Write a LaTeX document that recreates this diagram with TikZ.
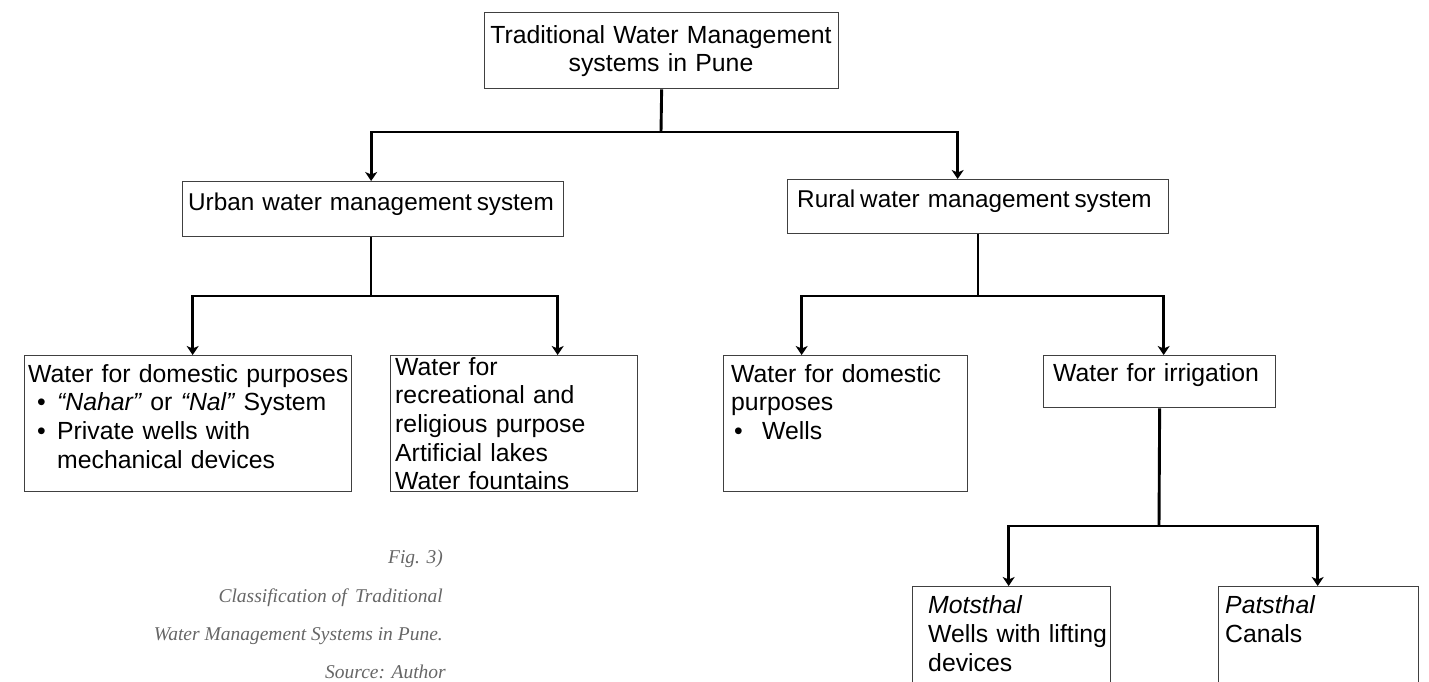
\documentclass[tikz,border=0pt]{standalone}
\usepackage{fontspec}
\setmainfont{Liberation Sans}
\newfontfamily\capfont{Liberation Serif}
\usetikzlibrary{arrows.meta}
\begin{document}
\begin{tikzpicture}[x=1pt,y=-1pt,
  box/.style={draw=black!75, line width=1.3pt, rectangle, inner sep=0pt, anchor=north west},
  txt/.style={inner sep=0pt, anchor=north west, align=left, text width=400pt,
              font=\fontsize{24.8}{28.6}\selectfont},
  conn/.style={line width=2.9pt, black},
  arr/.style={conn, -{Stealth[length=9pt,width=12pt,inset=2.5pt]}},
  captxt/.style={inner sep=0pt, anchor=base east, text=black!60,
              font=\capfont\itshape\fontsize{19.5}{22}\selectfont}]
\useasboundingbox (0,0) rectangle (1429,682);
\clip (0,0) rectangle (1429,682);

% boxes
\node[box, minimum width=354pt, minimum height=76pt] (top) at (484,12) {};
\node[box, minimum width=381pt, minimum height=55pt] (urban) at (182,181) {};
\node[box, minimum width=381pt, minimum height=54pt] (rural) at (787,179) {};
\node[box, minimum width=327pt, minimum height=136pt] (boxA) at (24,355) {};
\node[box, minimum width=247pt, minimum height=136pt] (boxB) at (390,355) {};
\node[box, minimum width=244pt, minimum height=136pt] (boxC) at (723,355) {};
\node[box, minimum width=232pt, minimum height=52pt] (boxD) at (1043,355) {};
\node[box, minimum width=198pt, minimum height=130pt] (boxE) at (912,586) {};
\node[box, minimum width=200pt, minimum height=130pt] (boxF) at (1218,586) {};

% texts
\node[inner sep=0pt, anchor=north, align=center, text width=354pt,
      font=\fontsize{24.8}{28}\selectfont] (topT) at (661,24)
  {\rule{0pt}{19pt}Traditional Water Management\\systems in Pune};
\node[txt, font=\fontsize{24.3}{28.6}\selectfont] (urbanT) at (188,191)
  {\rule{0pt}{19pt}Urban water management\hspace{5pt}system};
\node[txt, font=\fontsize{24.3}{28.6}\selectfont] (ruralT) at (797,188)
  {\rule{0pt}{19pt}Rural\hspace{5pt}water management\hspace{5pt}system};
\node[txt] (boxAT) at (28,363)
  {\rule{0pt}{19pt}Water for domestic purposes\\
   \hspace*{9pt}\makebox[20pt][l]{•}\textit{“Nahar”} or \textit{“Nal”} System\\
   \hspace*{9pt}\makebox[20pt][l]{•}Private wells with\\
   \hspace*{29pt}mechanical devices};
\node[txt] (boxBT) at (395,356)
  {\rule{0pt}{19pt}Water for\\recreational and\\religious purpose\\Artificial lakes\\Water fountains};
\node[txt] (boxCT) at (731,363)
  {\rule{0pt}{19pt}Water for domestic\\purposes\\
   \hspace*{3pt}\makebox[28pt][l]{•}Wells};
\node[txt] (boxDT) at (1053,362) {\rule{0pt}{19pt}Water for irrigation};
\node[txt, font=\fontsize{24.8}{29}\selectfont] (boxET) at (928,594)
  {\rule{0pt}{19pt}\textit{Motsthal}\\Wells with lifting\\devices};
\node[txt, font=\fontsize{24.8}{29}\selectfont] (boxFT) at (1225,594)
  {\rule{0pt}{19pt}\textit{Patsthal}\\Canals};

% junctions
\coordinate (j0) at (661,132);
\coordinate (j1) at (371,296);
\coordinate (j2) at (978,296);
\coordinate (j3) at (1159,526);

% connectors
\draw[conn] (top.south) -- (j0);
\draw[arr] (j0) -| ([xshift=-2pt]urban.north);
\draw[arr] (j0) -| ([xshift=-20.5pt]rural.north);

\draw[conn] (urban.south -| j1) -- (j1);
\draw[arr] (j1) -| ([xshift=4.5pt]boxA.north);
\draw[arr] (j1) -| ([xshift=43.5pt]boxB.north);

\draw[conn] (rural.south -| j2) -- (j2);
\draw[arr] (j2) -| ([xshift=-44pt]boxC.north);
\draw[arr] (j2) -| ([xshift=4pt]boxD.north);

\draw[conn] (boxD.south) -- (j3);
\draw[arr] (j3) -| ([xshift=-3pt]boxE.north);
\draw[arr] (j3) -| ([xshift=-1pt]boxF.north);

% caption
\node[captxt] (cap1) at (443,563) {Fig. 3)};
\node[captxt] (cap2) at (443,602) {Classification of\, Traditional};
\node[captxt] (cap3) at (443,640) {Water Management Systems in Pune.};
\node[captxt] (cap4) at (446,678) {Source: Author};
\end{tikzpicture}
\end{document}
